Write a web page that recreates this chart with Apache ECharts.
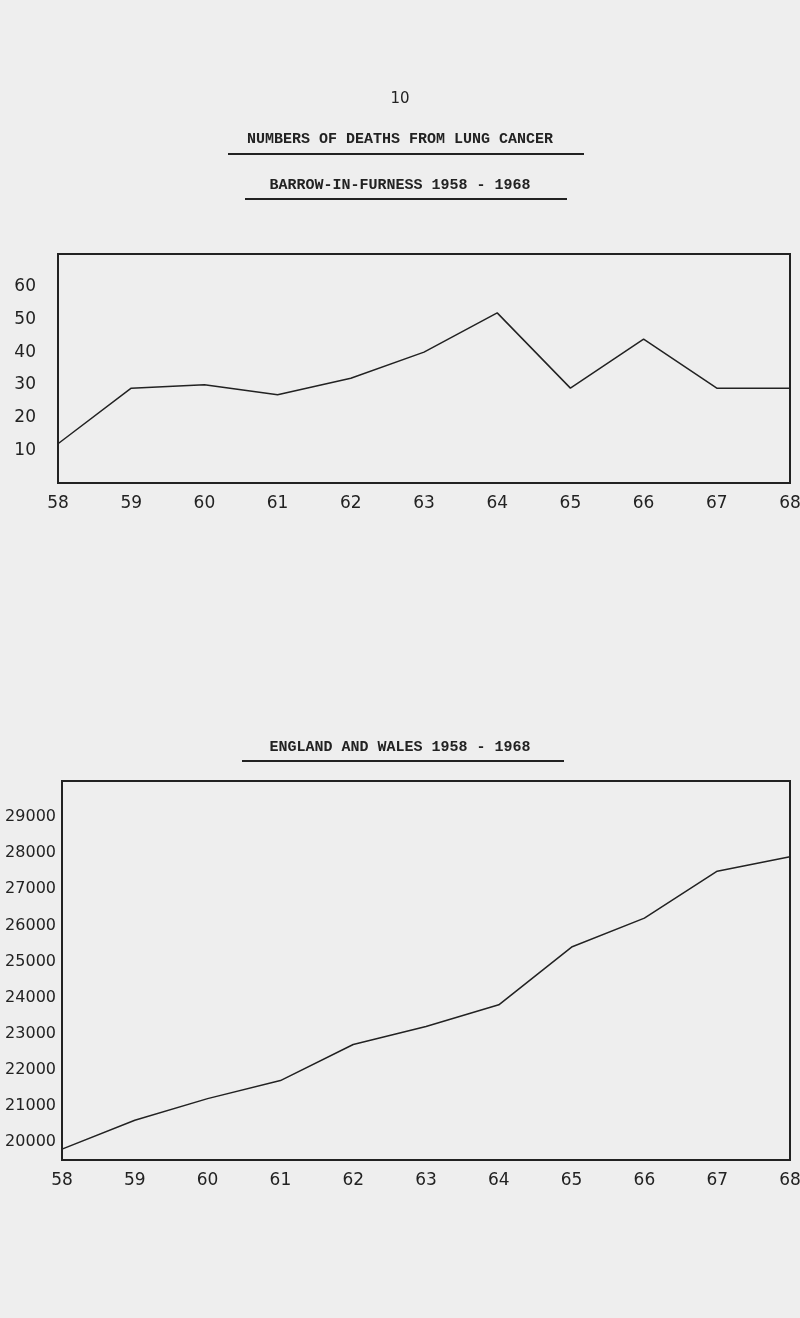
<!DOCTYPE html>
<html><head><meta charset="utf-8">
<script src="https://cdn.jsdelivr.net/npm/echarts@6/dist/echarts.min.js"></script>
<style>html,body{margin:0;background:#eeeeee}#c{width:800px;height:1318px}</style>
</head><body><div id="c"></div>
<script>
const years=[58,59,60,61,62,63,64,65,66,67,68];
const barrow=[12,29,30,27,32,40,52,29,44,29,29];
const england=[19800,20600,21200,21700,22700,23200,23800,25400,26200,27500,27900];
const ch=echarts.init(document.getElementById('c'));
const tf='"Liberation Mono","DejaVu Sans Mono",monospace';
const lf='"DejaVu Sans",sans-serif';
const ax=(i)=>({type:'value',gridIndex:i,min:58,max:68,interval:1,
  axisLine:{show:false},axisTick:{show:false},splitLine:{show:false},
  axisLabel:{color:'#222',fontSize:17,fontFamily:lf,margin:12}});
ch.setOption({
  backgroundColor:'#eeeeee',
  graphic:[
    {type:'text',left:'center',top:92,style:{text:'10',font:'15px '+lf,fill:'#222'}},
    {type:'text',left:'center',top:132,style:{text:'NUMBERS OF DEATHS FROM LUNG CANCER',font:'bold 15px '+tf,fill:'#222'}},
    {type:'rect',shape:{x:228,y:153,width:356,height:2},style:{fill:'#222'}},
    {type:'text',left:'center',top:178,style:{text:'BARROW-IN-FURNESS 1958 - 1968',font:'bold 15px '+tf,fill:'#222'}},
    {type:'rect',shape:{x:245,y:198,width:322,height:2},style:{fill:'#222'}},
    {type:'text',left:'center',top:740,style:{text:'ENGLAND AND WALES 1958 - 1968',font:'bold 15px '+tf,fill:'#222'}},
    {type:'rect',shape:{x:242,y:760,width:322,height:2},style:{fill:'#222'}}
  ],
  grid:[{left:58,width:732,top:254,height:229,show:true,outerBoundsMode:'none',containLabel:false,borderColor:'#222',borderWidth:2,backgroundColor:'transparent'},
        {left:62,width:728,top:781,height:379,show:true,outerBoundsMode:'none',containLabel:false,borderColor:'#222',borderWidth:2,backgroundColor:'transparent'}],
  xAxis:[ax(0),ax(1)],
  yAxis:[{type:'value',gridIndex:0,min:0,max:70,interval:10,splitLine:{show:false},axisLine:{show:false},axisTick:{show:false},
          axisLabel:{color:'#222',fontSize:17,fontFamily:lf,margin:22,formatter:v=>(v>0&&v<70)?v:''}},
         {type:'value',gridIndex:1,min:19500,max:30000,interval:500,splitLine:{show:false},axisLine:{show:false},axisTick:{show:false},
          axisLabel:{color:'#222',fontSize:16,fontFamily:lf,margin:6,formatter:v=>(v%1000===0&&v>=20000&&v<=29000)?v:''}}],
  series:[
    {type:'line',xAxisIndex:0,yAxisIndex:0,data:years.map((y,i)=>[y,barrow[i]]),symbol:'none',lineStyle:{color:'#222',width:1.5}},
    {type:'line',xAxisIndex:1,yAxisIndex:1,data:years.map((y,i)=>[y,england[i]]),symbol:'none',lineStyle:{color:'#222',width:1.5}}
  ]
});
</script></body></html>
